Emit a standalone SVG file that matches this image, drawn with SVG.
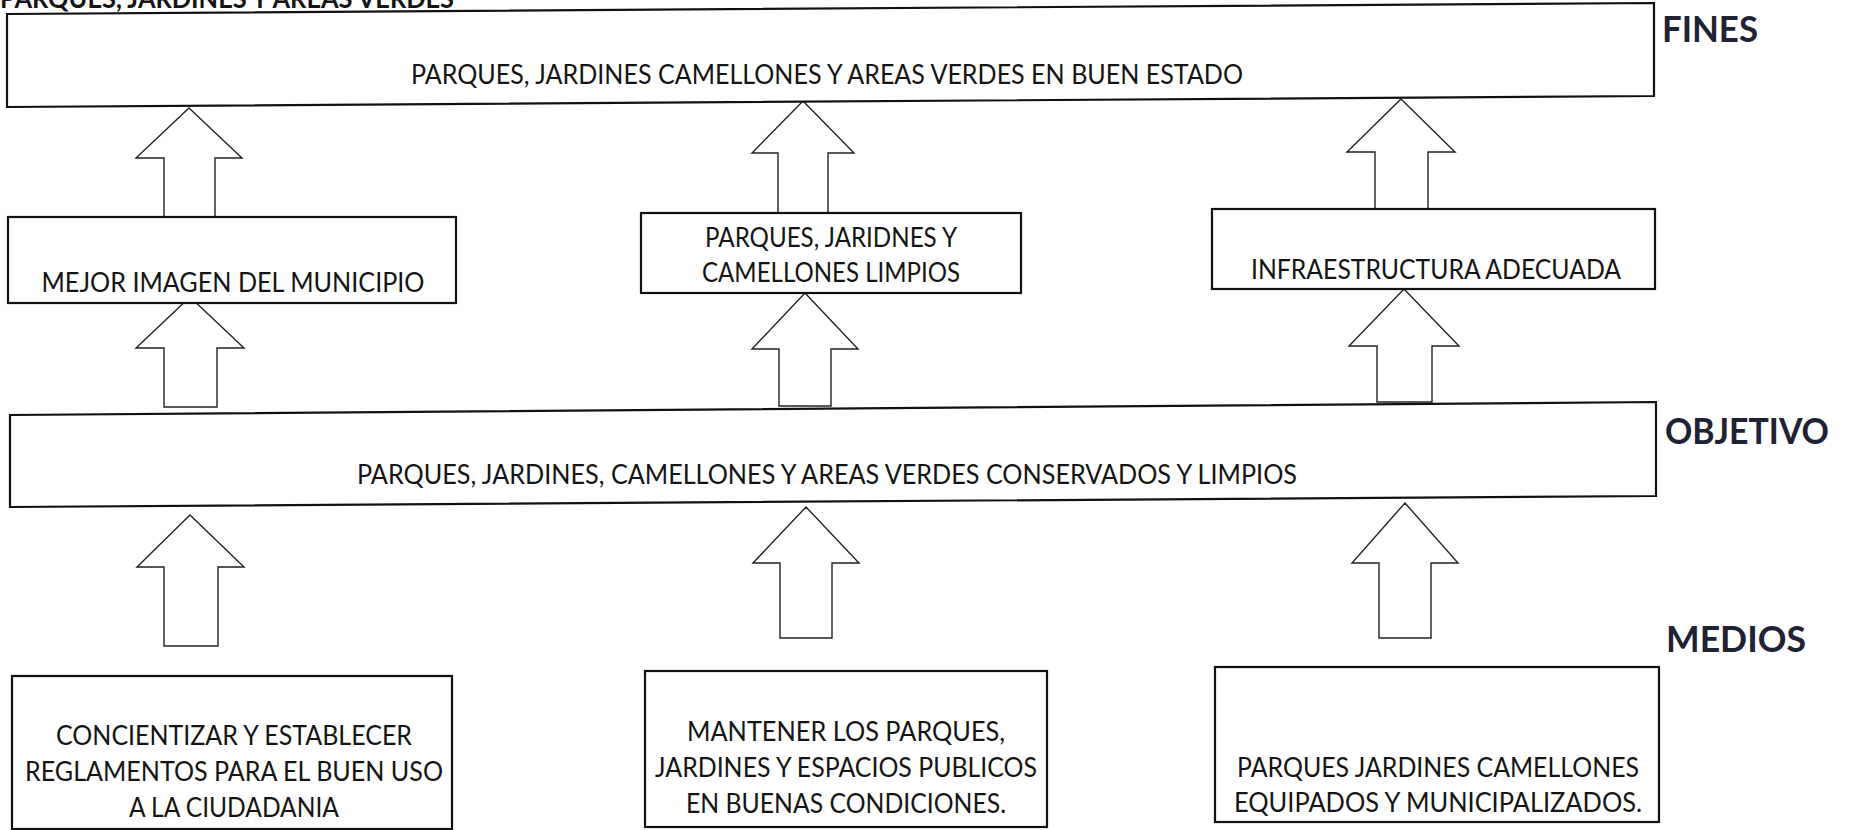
<svg xmlns="http://www.w3.org/2000/svg" width="1857" height="830" viewBox="0 0 1857 830">
<style>
.bg{fill:#ffffff}
.box{fill:#ffffff;stroke:#111111;stroke-width:2.2}
.arr{fill:#ffffff;stroke:#222222;stroke-width:1.4;stroke-linejoin:miter}
.t{font-family:Lato,"Liberation Sans",sans-serif;font-size:26px;fill:#141414;text-anchor:middle}
.lbl{font-family:Lato,"Liberation Sans",sans-serif;font-size:36px;font-weight:bold;fill:#1f2233}
.ttl{font-family:Lato,"Liberation Sans",sans-serif;font-size:26px;font-weight:bold;fill:#141414}
</style>
<rect class="bg" x="0" y="0" width="1857" height="830"/>
<text class="ttl" x="0" y="8" textLength="454" lengthAdjust="spacingAndGlyphs">PARQUES, JARDINES Y AREAS VERDES</text>
<g id="connectors">
<path class="arr" d="M189,108 L242,158 L215,158 L215,217 L164,217 L164,158 L136,158 Z"/>
<path class="arr" d="M803,101 L854,153 L828,153 L828,213 L778,213 L778,153 L752,153 Z"/>
<path class="arr" d="M1401,99 L1455,152 L1428,152 L1428,210 L1375,210 L1375,152 L1347,152 Z"/>
<path class="arr" d="M190,297 L244,348 L217,348 L217,407 L164,407 L164,348 L136,348 Z"/>
<path class="arr" d="M805,293 L858,349 L831,349 L831,406 L779,406 L779,349 L752,349 Z"/>
<path class="arr" d="M1404,289 L1459,346 L1432,346 L1432,402 L1377,402 L1377,346 L1349,346 Z"/>
<path class="arr" d="M190,515 L244,567 L218,567 L218,646 L164,646 L164,567 L137,567 Z"/>
<path class="arr" d="M806,507 L859,563 L832,563 L832,638 L780,638 L780,563 L753,563 Z"/>
<path class="arr" d="M1405,503 L1458,563 L1431,563 L1431,638 L1379,638 L1379,563 L1352,563 Z"/>
</g>
<g id="fines">
<polygon class="box" points="7,14 1654,3 1654,96 7,107"/>
<text class="t" x="827" y="84" textLength="832" lengthAdjust="spacingAndGlyphs">PARQUES, JARDINES CAMELLONES Y AREAS VERDES EN BUEN ESTADO</text>
</g>
<g id="label-fines"><text class="lbl" x="1662" y="42" textLength="96" lengthAdjust="spacingAndGlyphs">FINES</text></g>
<g id="mejor-imagen">
<rect class="box" x="8" y="217" width="448" height="86"/>
<text class="t" x="233" y="292" textLength="383" lengthAdjust="spacingAndGlyphs">MEJOR IMAGEN DEL MUNICIPIO</text>
</g>
<g id="parques-limpios">
<rect class="box" x="641" y="213" width="380" height="80"/>
<text class="t" x="831" y="247" textLength="252" lengthAdjust="spacingAndGlyphs">PARQUES, JARIDNES Y</text>
<text class="t" x="831" y="282" textLength="258" lengthAdjust="spacingAndGlyphs">CAMELLONES LIMPIOS</text>
</g>
<g id="infraestructura">
<rect class="box" x="1212" y="209" width="443" height="80"/>
<text class="t" x="1436" y="279" textLength="370" lengthAdjust="spacingAndGlyphs">INFRAESTRUCTURA ADECUADA</text>
</g>
<g id="objetivo">
<polygon class="box" points="10,415 1656,402 1656,496 10,507"/>
<text class="t" x="827" y="484" textLength="940" lengthAdjust="spacingAndGlyphs">PARQUES, JARDINES, CAMELLONES Y AREAS VERDES CONSERVADOS Y LIMPIOS</text>
</g>
<g id="label-objetivo"><text class="lbl" x="1665" y="444" textLength="164" lengthAdjust="spacingAndGlyphs">OBJETIVO</text></g>
<g id="label-medios"><text class="lbl" x="1666" y="652" textLength="140" lengthAdjust="spacingAndGlyphs">MEDIOS</text></g>
<g id="concientizar">
<rect class="box" x="12" y="676" width="440" height="153"/>
<text class="t" x="234" y="745" textLength="356" lengthAdjust="spacingAndGlyphs">CONCIENTIZAR Y ESTABLECER</text>
<text class="t" x="234" y="781" textLength="418" lengthAdjust="spacingAndGlyphs">REGLAMENTOS PARA EL BUEN USO</text>
<text class="t" x="234" y="817" textLength="210" lengthAdjust="spacingAndGlyphs">A LA CIUDADANIA</text>
</g>
<g id="mantener">
<rect class="box" x="645" y="671" width="402" height="156"/>
<text class="t" x="846" y="741" textLength="318" lengthAdjust="spacingAndGlyphs">MANTENER LOS PARQUES,</text>
<text class="t" x="846" y="777" textLength="382" lengthAdjust="spacingAndGlyphs">JARDINES Y ESPACIOS PUBLICOS</text>
<text class="t" x="846" y="813" textLength="320" lengthAdjust="spacingAndGlyphs">EN BUENAS CONDICIONES.</text>
</g>
<g id="equipados">
<rect class="box" x="1215" y="667" width="444" height="155"/>
<text class="t" x="1438" y="777" textLength="402" lengthAdjust="spacingAndGlyphs">PARQUES JARDINES CAMELLONES</text>
<text class="t" x="1438" y="812" textLength="408" lengthAdjust="spacingAndGlyphs">EQUIPADOS Y MUNICIPALIZADOS.</text>
</g>
</svg>
